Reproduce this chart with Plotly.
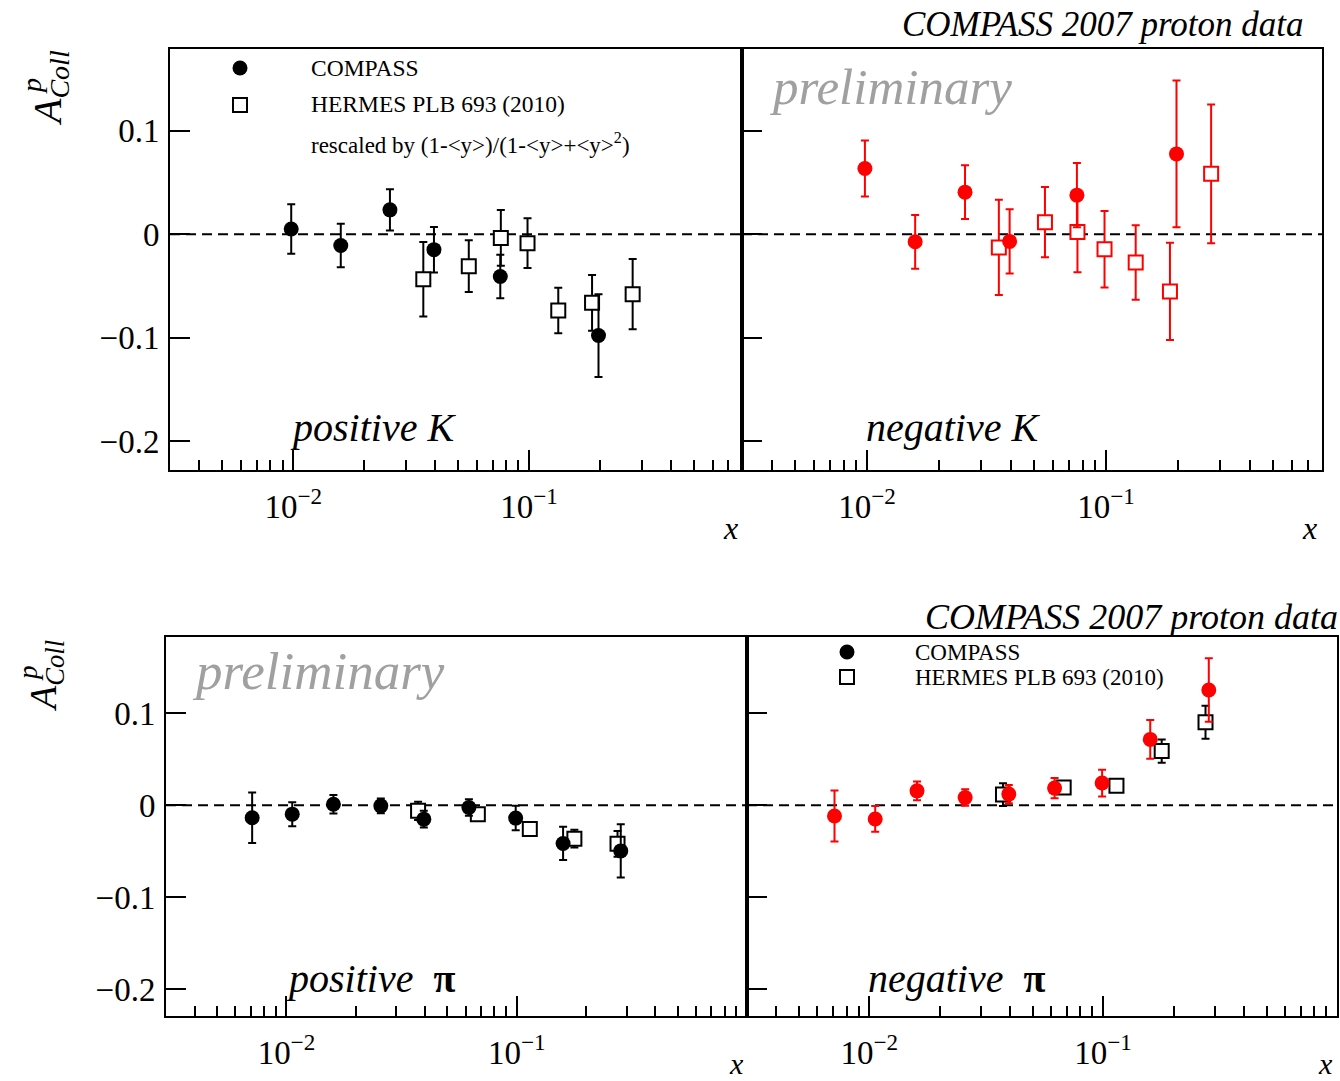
import math
import plotly.graph_objects as go

# ---------------- data ----------------
k_compass_x = [0.0098, 0.0159, 0.0257, 0.0395, 0.0755, 0.197]
k_hermes_x = [0.0356, 0.0555, 0.0759, 0.0985, 0.133, 0.185, 0.275]

kpos_compass_y = [0.005, -0.011, 0.0235, -0.015, -0.041, -0.098]
kpos_compass_err = [0.024, 0.021, 0.020, 0.022, 0.021, 0.040]
kpos_hermes_y = [-0.0435, -0.031, -0.0036, -0.0087, -0.0737, -0.0664, -0.058]
kpos_hermes_err = [0.036, 0.025, 0.027, 0.024, 0.022, 0.027, 0.034]

kneg_compass_y = [0.0635, -0.0074, 0.0406, -0.007, 0.0377, 0.0776]
kneg_compass_err = [0.027, 0.026, 0.026, 0.031, 0.031, 0.071]
kneg_hermes_y = [-0.0128, 0.0116, 0.0022, -0.0145, -0.0275, -0.0554, 0.0583]
kneg_hermes_err = [0.046, 0.034, 0.039, 0.037, 0.036, 0.047, 0.067]

pi_compass_x = [0.0071, 0.0106, 0.0160, 0.0257, 0.0395, 0.062, 0.099, 0.159, 0.283]
pi_hermes_x = [0.0373, 0.0678, 0.114, 0.178, 0.274]

pipos_compass_y = [-0.0137, -0.0098, 0.001, -0.0008, -0.0152, -0.0025, -0.0141, -0.0416, -0.0497]
pipos_compass_err = [0.0275, 0.013, 0.010, 0.008, 0.009, 0.009, 0.0133, 0.018, 0.029]
pipos_hermes_y = [-0.0062, -0.0098, -0.026, -0.0364, -0.042]
pipos_hermes_err = [0.010, 0.005, 0.004, 0.0096, 0.014]

pineg_compass_y = [-0.0118, -0.015, 0.0155, 0.0082, 0.012, 0.0185, 0.024, 0.0714, 0.125]
pineg_compass_err = [0.0277, 0.014, 0.0103, 0.009, 0.010, 0.011, 0.0145, 0.021, 0.0345]
pineg_hermes_y = [0.0115, 0.0192, 0.021, 0.0587, 0.09]
pineg_hermes_err = [0.0124, 0.005, 0.004, 0.0127, 0.018]

y_tickvals = [0.1, 0, -0.1, -0.2]
y_ticktext = ["0.1", "0", "\u22120.1", "\u22120.2"]
x_tickvals = [0.01, 0.1]
x_ticktext = ["10<sup>\u22122</sup>", "10<sup>\u22121</sup>"]
minor_top = [0.004, 0.005, 0.006, 0.007, 0.008, 0.009,
             0.02, 0.03, 0.04, 0.05, 0.06, 0.07, 0.08, 0.09,
             0.2, 0.3, 0.4, 0.5, 0.6, 0.7]
minor_bot = minor_top + [0.8, 0.9]

W, H = 1340, 1081
SERIF = "Liberation Serif"
RED = "#ff0000"


def px(x):
    return x / W


def py(y):
    return 1 - y / H


fig = go.Figure()


def add_series(idx, x, y, err, color, kind):
    xa = "x" if idx == 1 else f"x{idx}"
    ya = "y" if idx == 1 else f"y{idx}"
    if kind == "circle":
        marker = dict(symbol="circle", size=15, color=color, line=dict(width=0))
    else:
        marker = dict(symbol="square", size=14, color="white",
                      line=dict(color=color, width=2))
    fig.add_trace(go.Scatter(
        x=x, y=y, mode="markers", xaxis=xa, yaxis=ya, showlegend=False,
        marker=marker,
        error_y=dict(type="data", array=err, visible=True, color=color,
                     thickness=2, width=4),
    ))


# top-left: positive K
add_series(1, k_hermes_x, kpos_hermes_y, kpos_hermes_err, "black", "square")
add_series(1, k_compass_x, kpos_compass_y, kpos_compass_err, "black", "circle")
# top-right: negative K
add_series(2, k_hermes_x, kneg_hermes_y, kneg_hermes_err, RED, "square")
add_series(2, k_compass_x, kneg_compass_y, kneg_compass_err, RED, "circle")
# bottom-left: positive pi
add_series(3, pi_hermes_x, pipos_hermes_y, pipos_hermes_err, "black", "square")
add_series(3, pi_compass_x, pipos_compass_y, pipos_compass_err, "black", "circle")
# bottom-right: negative pi
add_series(4, pi_hermes_x, pineg_hermes_y, pineg_hermes_err, "black", "square")
add_series(4, pi_compass_x, pineg_compass_y, pineg_compass_err, RED, "circle")

tickfont = dict(family=SERIF, size=33, color="black")


def xaxis(dom, anchor, xmax, minor_vals):
    return dict(
        domain=dom, anchor=anchor, type="log",
        range=[math.log10(0.003), math.log10(xmax)],
        showline=True, linewidth=2, linecolor="black", mirror=True,
        ticks="inside", ticklen=20, tickwidth=2, tickcolor="black",
        tickvals=x_tickvals, ticktext=x_ticktext, tickfont=tickfont,
        ticklabelstandoff=6,
        showgrid=False, zeroline=False,
        minor=dict(tickvals=minor_vals, ticks="inside", ticklen=10,
                   tickwidth=2, tickcolor="black", showgrid=False),
    )


def yaxis(dom, anchor, rng, labels):
    return dict(
        domain=dom, anchor=anchor, range=rng,
        showline=True, linewidth=2, linecolor="black", mirror=True,
        ticks="inside", ticklen=20, tickwidth=2, tickcolor="black",
        tickvals=y_tickvals, ticktext=y_ticktext, tickfont=tickfont,
        showticklabels=labels, ticklabelstandoff=2,
        showgrid=False, zeroline=False,
    )


top_y = [py(470), py(49)]
bot_y = [py(1016), py(637)]
top_rng = [-0.228, 0.179]
bot_rng = [-0.229, 0.1826]

fig.update_layout(
    width=W, height=H,
    margin=dict(l=0, r=0, t=0, b=0),
    paper_bgcolor="white", plot_bgcolor="white",
    showlegend=False,
    xaxis=xaxis([px(170), px(742)], "y", 0.8, minor_top),
    yaxis=yaxis(top_y, "x", top_rng, True),
    xaxis2=xaxis([px(742), px(1322)], "y2", 0.8, minor_top),
    yaxis2=yaxis(top_y, "x2", top_rng, False),
    xaxis3=xaxis([px(166), px(747)], "y3", 1.0, minor_bot),
    yaxis3=yaxis(bot_y, "x3", bot_rng, True),
    xaxis4=xaxis([px(747), px(1337)], "y4", 1.0, minor_bot),
    yaxis4=yaxis(bot_y, "x4", bot_rng, False),
)

# dashed zero lines
shapes = []
for i in range(1, 5):
    xr = "x domain" if i == 1 else f"x{i} domain"
    yr = "y" if i == 1 else f"y{i}"
    shapes.append(dict(type="line", xref=xr, yref=yr, x0=0, x1=1, y0=0, y1=0,
                       line=dict(color="black", width=2, dash="10px,6px"),
                       layer="below"))


# legend symbols (paper coordinates)
def circ(cx, cy, r=7.5):
    return dict(type="circle", xref="paper", yref="paper",
                x0=px(cx - r), x1=px(cx + r), y0=py(cy + r), y1=py(cy - r),
                fillcolor="black", line=dict(color="black", width=0))


def sq(cx, cy, r=7):
    return dict(type="rect", xref="paper", yref="paper",
                x0=px(cx - r), x1=px(cx + r), y0=py(cy + r), y1=py(cy - r),
                fillcolor="white", line=dict(color="black", width=2))


shapes += [circ(240, 68), sq(240, 105), circ(847, 652), sq(847, 677)]
fig.update_layout(shapes=shapes)

ann = []


def text(x, y, s, size, xanchor="left", color="black", angle=0, yanchor="middle"):
    ann.append(dict(x=px(x), y=py(y), xref="paper", yref="paper", text=s,
                    showarrow=False, xanchor=xanchor, yanchor=yanchor,
                    textangle=angle,
                    font=dict(family=SERIF, size=size, color=color)))


# titles
text(1306, 24, "<i>COMPASS 2007 proton data</i>", 35, xanchor="right")
text(1340, 617, "<i>COMPASS 2007 proton data</i>", 36, xanchor="right")
# preliminary
text(768, 87, "<i>preliminary</i>", 51, color="#a0a0a0")
text(190, 671, "<i>preliminary</i>", 53, color="#a0a0a0")
# panel labels
text(288, 428, "<i>positive K</i>", 40)
text(864, 428, "<i>negative K</i>", 40)
text(284, 978, "<i>positive</i>  <b>\u03c0</b>", 40)
text(866, 978, "<i>negative</i>  <b>\u03c0</b>", 40)
# x axis titles
text(730, 528, "<i>x</i>", 32, xanchor="center")
text(1309, 528, "<i>x</i>", 32, xanchor="center")
text(736, 1063, "<i>x</i>", 30, xanchor="center")
text(1325, 1063, "<i>x</i>", 30, xanchor="center")
# y axis titles
text(50, 88, "<i>A</i><sub><i>Coll</i></sub>", 40, xanchor="center", angle=-90)
text(31, 86, "<i>p</i>", 28, xanchor="center", angle=-90)
text(46, 676, "<i>A</i><sub><i>Coll</i></sub>", 38, xanchor="center", angle=-90)
text(28, 673, "<i>p</i>", 27, xanchor="center", angle=-90)
# legends
text(309, 68, "COMPASS", 23.5)
text(309, 104, "HERMES PLB 693 (2010)", 23.5)
text(309, 144, "rescaled by (1-&lt;y&gt;)/(1-&lt;y&gt;+&lt;y&gt;<sup>2</sup>)", 23)
text(913, 652, "COMPASS", 23)
text(913, 677, "HERMES PLB 693 (2010)", 23)

fig.update_layout(annotations=ann)

fig.write_html("out.html")
